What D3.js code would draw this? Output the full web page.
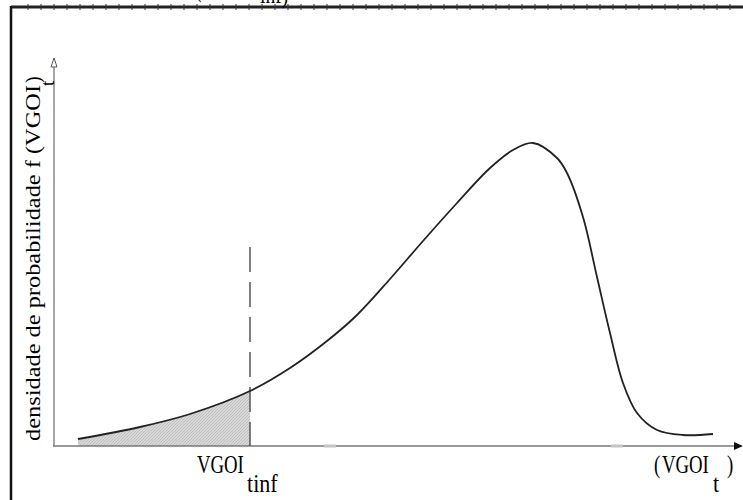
<!DOCTYPE html>
<head>
    <style>
        body { margin: 0; background: #fff; }
        svg text { font-family: 'Liberation Serif', 'DejaVu Serif', serif; fill: #000; }
    </style>
    <script src="https://d3js.org/d3.v7.min.js"></script>
</head>
<body>
<script>
    // density curve (x = VGOI_t, y = f(VGOI_t), arbitrary units)
    const curveX = [24, 86, 136, 196, 236, 273, 303, 336, 369, 403, 436, 459, 479, 503, 513, 529, 543, 556, 569, 583, 603, 629, 659];
    const curveY = [7, 19, 32, 55, 78, 105, 131, 167, 205, 243, 278, 296, 303, 288, 273, 229, 169, 113, 63, 33, 16, 11, 12];
    const cutX = 196;             // VGOI_t inf
    const cutTop = 199;           // top of the dashed marker
    const axisMarks = [276, 563]; // faint marks on the x axis

    const width = 743, height = 500;
    const x = d3.scaleLinear().domain([0, 686]).range([54, 740]);
    const y = d3.scaleLinear().domain([0, 384]).range([446, 62]);

    const pts = curveX.map((v, i) => [v, curveY[i]]);
    const smooth = d3.curveCatmullRom.alpha(0.5);

    const svg = d3.select('body').append('svg')
        .attr('width', width).attr('height', height);

    // hatch for the shaded tail
    const pat = svg.append('defs').append('pattern')
        .attr('id', 'hatch').attr('patternUnits', 'userSpaceOnUse')
        .attr('width', 3).attr('height', 3);
    pat.append('rect').attr('width', 3).attr('height', 3).attr('fill', '#d8d8d8');
    pat.append('path').attr('d', 'M0,3 L3,0').attr('stroke', '#b8b8b8').attr('stroke-width', 0.8);

    // page frame (table border)
    svg.append('line').attr('x1', 11).attr('x2', width).attr('y1', 7).attr('y2', 7)
        .attr('stroke', '#222').attr('stroke-width', 3);
    d3.range(28, width, 13).forEach(t => {
        svg.append('line').attr('x1', t).attr('x2', t).attr('y1', 4).attr('y2', 10)
            .attr('stroke', '#333').attr('stroke-width', 1);
    });
    svg.append('line').attr('x1', 11).attr('x2', 11).attr('y1', 6).attr('y2', height)
        .attr('stroke', '#111').attr('stroke-width', 2.5);

    // condensed serif label helper
    function lab(px, py, s, size, sx) {
        return svg.append('text')
            .attr('transform', `translate(${px},${py}) scale(${sx || 0.75},1)`)
            .attr('font-size', size || 25).text(s);
    }

    // cropped caption remnant at the very top
    lab(195, -3, '(', 26);
    lab(260, 3, 'inf)', 26);

    // shaded area up to the cut
    const tail = pts.filter(p => p[0] <= cutX);
    svg.append('path')
        .datum(tail)
        .attr('fill', 'url(#hatch)')
        .attr('d', d3.area().x(d => x(d[0])).y0(y(0)).y1(d => y(d[1])).curve(smooth));

    // axes
    svg.append('line').attr('x1', x(0)).attr('x2', x(0)).attr('y1', y(0)).attr('y2', 66)
        .attr('stroke', '#777').attr('stroke-width', 1.3);
    svg.append('path').attr('d', `M${x(0)},58 L${x(0) - 3},67 L${x(0) + 3},67 Z`)
        .attr('fill', '#fff').attr('stroke', '#555').attr('stroke-width', 1);
    svg.append('line').attr('x1', x(0) - 1).attr('x2', 734).attr('y1', y(0)).attr('y2', y(0))
        .attr('stroke', '#777').attr('stroke-width', 1.6);
    svg.append('path').attr('d', `M743,${y(0)} L734,${y(0) - 4} L734,${y(0) + 4} Z`)
        .attr('fill', '#111');
    axisMarks.forEach(m => {
        svg.append('rect').attr('x', x(m) - 6).attr('y', y(0) - 1.5).attr('width', 12).attr('height', 3)
            .attr('fill', '#c4c4c4');
    });

    // dashed marker at VGOI_t inf
    svg.append('line').attr('x1', x(cutX)).attr('x2', x(cutX)).attr('y1', y(cutTop)).attr('y2', y(0))
        .attr('stroke', '#555').attr('stroke-width', 1.5).attr('stroke-dasharray', '25,10');

    // density curve
    svg.append('path')
        .datum(pts)
        .attr('fill', 'none').attr('stroke', '#222').attr('stroke-width', 1.8)
        .attr('d', d3.line().x(d => x(d[0])).y(d => y(d[1])).curve(smooth));

    // x labels
    lab(197, 473, 'VGOI');
    lab(247, 492, 'tinf', 26, 0.85);
    lab(654, 473, '(');
    lab(662, 473, 'VGOI');
    lab(713, 492, 't', 26, 0.85);
    lab(727, 473, ')');

    // y label, rotated
    svg.append('text').attr('transform', 'translate(40,441) rotate(-90)')
        .attr('font-family', 'DejaVu Serif')
        .attr('font-size', 20).attr('textLength', 356).attr('lengthAdjust', 'spacingAndGlyphs')
        .text('densidade de probabilidade  f (VGOI');
    svg.append('text').attr('transform', 'translate(40,83) rotate(-90)')
        .attr('font-family', 'DejaVu Serif').attr('font-size', 20).text(')');
    svg.append('text').attr('transform', 'translate(54,86) rotate(-90)')
        .attr('font-family', 'DejaVu Serif').attr('font-size', 19).text('t');
</script>
</body>
